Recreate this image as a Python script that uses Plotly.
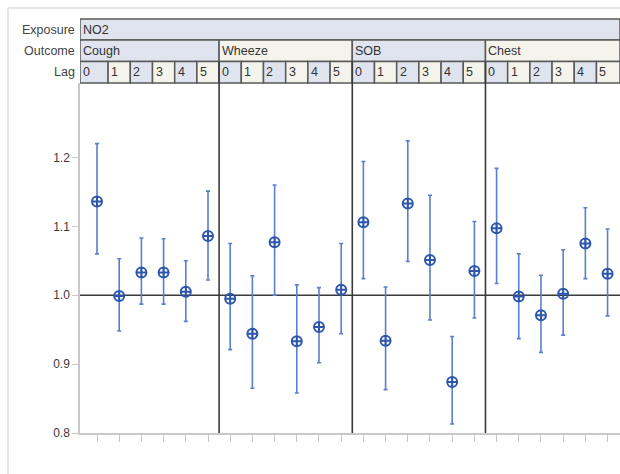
import plotly.graph_objects as go

# Odds ratios with 95% CI by respiratory outcome and lag day (exposure: NO2)
exposure = "NO2"
outcomes = ["Cough", "Wheeze", "SOB", "Chest"]
lags = [0, 1, 2, 3, 4, 5]

estimate = {
    "Cough":  [1.136, 0.999, 1.033, 1.033, 1.005, 1.086],
    "Wheeze": [0.995, 0.944, 1.077, 0.933, 0.954, 1.008],
    "SOB":    [1.106, 0.934, 1.133, 1.051, 0.874, 1.035],
    "Chest":  [1.097, 0.998, 0.971, 1.002, 1.075, 1.031],
}
lower = {
    "Cough":  [1.060, 0.948, 0.987, 0.987, 0.962, 1.022],
    "Wheeze": [0.921, 0.865, 1.000, 0.858, 0.902, 0.944],
    "SOB":    [1.024, 0.863, 1.049, 0.964, 0.813, 0.967],
    "Chest":  [1.017, 0.937, 0.917, 0.942, 1.024, 0.970],
}
upper = {
    "Cough":  [1.220, 1.053, 1.083, 1.082, 1.050, 1.151],
    "Wheeze": [1.075, 1.028, 1.160, 1.015, 1.011, 1.075],
    "SOB":    [1.194, 1.012, 1.224, 1.145, 0.940, 1.107],
    "Chest":  [1.184, 1.060, 1.029, 1.066, 1.127, 1.096],
}
y_ticks = [0.8, 0.9, 1.0, 1.1, 1.2]

# geometry
W, H = 620, 474
ML, MR, MT, MB = 80, 0, 83, 41
PH = H - MT - MB
n_lag = len(lags)
n_pos = n_lag * len(outcomes)
X0, X1 = -0.766, 23.56
Y0, Y1 = 0.8, 0.8 + PH / 689.0

def py(p):
    """pixel row -> paper y"""
    return (H - MB - p) / PH

def px(p):
    """pixel column -> paper x"""
    return (p - ML) / (W - ML - MR)

BLUE_CELL = "#dfe4ef"
CREAM_CELL = "#f4f4ec"
BORDER = "#5a5a5a"
MARK = "#2f56ad"
BAR = "#5a7fcc"
HEAD_FONT = 12.5

xs, ys, lo, hi = [], [], [], []
for g, o in enumerate(outcomes):
    for i, lag in enumerate(lags):
        xs.append(g * n_lag + i)
        ys.append(estimate[o][i])
        lo.append(estimate[o][i] - lower[o][i])
        hi.append(upper[o][i] - estimate[o][i])

fig = go.Figure()
fig.add_trace(go.Scatter(
    x=xs, y=ys, mode="markers",
    marker=dict(symbol="circle-cross-open", size=10, color=MARK,
                line=dict(width=2, color=MARK)),
    error_y=dict(type="data", symmetric=False, array=hi, arrayminus=lo,
                 color=BAR, thickness=1.6, width=2),
    showlegend=False, hoverinfo="skip",
))

shapes = []
annotations = []

# header rows (pixel bounds)
row_exp = (py(40), py(19))
row_out = (py(61.5), py(40))
row_lag = (py(83), py(61.5))

def cell(x0, x1, yr, fill, text):
    shapes.append(dict(type="rect", xref="x", yref="paper", x0=x0, x1=x1,
                       y0=yr[0], y1=yr[1], fillcolor=fill,
                       line=dict(color=BORDER, width=1.5), layer="above"))
    annotations.append(dict(x=x0, y=(yr[0] + yr[1]) / 2, xref="x", yref="paper",
                            text=text, showarrow=False, xanchor="left",
                            yanchor="middle", xshift=1,
                            font=dict(size=HEAD_FONT, color="#333333")))

cell(X0, X1, row_exp, BLUE_CELL, exposure)
for g, o in enumerate(outcomes):
    a = X0 if g == 0 else g * n_lag - 0.5
    b = X1 if g == len(outcomes) - 1 else g * n_lag + n_lag - 0.5
    cell(a, b, row_out, BLUE_CELL if g % 2 == 0 else CREAM_CELL, o)
    for i, lag in enumerate(lags):
        p = g * n_lag + i
        ca = X0 if p == 0 else p - 0.5
        cb = X1 if p == n_pos - 1 else p + 0.5
        cell(ca, cb, row_lag, BLUE_CELL if i % 2 == 0 else CREAM_CELL, str(lag))

for label, yr in [("Exposure", row_exp), ("Outcome", row_out), ("Lag", row_lag)]:
    annotations.append(dict(x=px(77), y=(yr[0] + yr[1]) / 2, xref="paper",
                            yref="paper", text=label, showarrow=False,
                            xanchor="right", yanchor="middle",
                            font=dict(size=HEAD_FONT, color="#444444")))

# group separators
for g in range(1, len(outcomes)):
    xv = g * n_lag - 0.5
    shapes.append(dict(type="line", xref="x", yref="paper", x0=xv, x1=xv,
                       y0=0, y1=row_lag[1], line=dict(color="#3a3a3a", width=1.6),
                       layer="above"))

# reference line at 1
shapes.append(dict(type="line", xref="paper", yref="y", x0=0, x1=1, y0=1.0, y1=1.0,
                   line=dict(color="#3a3a3a", width=1.6), layer="below"))

# outer frame
shapes.append(dict(type="line", xref="paper", yref="paper", x0=px(8), x1=px(8),
                   y0=py(8), y1=py(H), line=dict(color="#dddddd", width=1.5)))
shapes.append(dict(type="line", xref="paper", yref="paper", x0=px(8), x1=px(W),
                   y0=py(8), y1=py(8), line=dict(color="#dddddd", width=1.5)))

fig.update_layout(
    width=W, height=H,
    margin=dict(l=ML, r=MR, t=MT, b=MB, pad=0),
    paper_bgcolor="white", plot_bgcolor="white",
    font=dict(family="Liberation Sans, Arial, sans-serif"),
    shapes=shapes, annotations=annotations,
    xaxis=dict(range=[X0, X1], tickvals=list(range(n_pos)), showticklabels=False,
               ticks="outside", ticklen=7, tickcolor="#c8c8c8", tickwidth=1.3,
               showgrid=False, zeroline=False, showline=True,
               linecolor="#c8c8c8", linewidth=1.5),
    yaxis=dict(range=[Y0, Y1], tickvals=y_ticks,
               ticktext=[f"{v:.1f}" for v in y_ticks],
               ticks="outside", ticklen=6, tickcolor="#c8c8c8", tickwidth=1.3,
               tickfont=dict(size=12, color="#3a3a3a"),
               showgrid=False, zeroline=False, showline=True,
               linecolor="#c8c8c8", linewidth=1.5),
)

fig.write_html("out.html")
